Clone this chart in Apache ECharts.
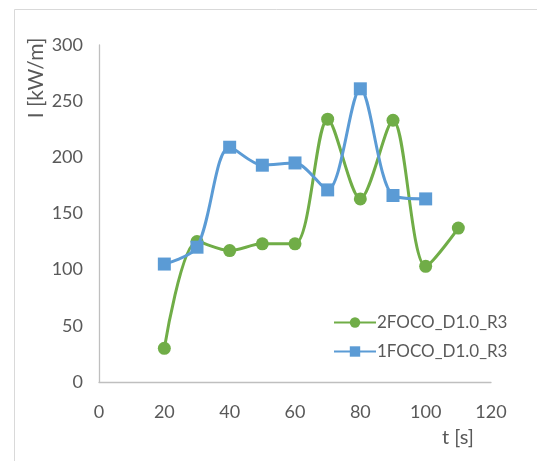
<!DOCTYPE html>
<html>
<head>
<meta charset="utf-8">
<script src="https://cdn.jsdelivr.net/npm/echarts@6/dist/echarts.min.js"></script>
<style>
  html, body { margin: 0; padding: 0; background: #fff; }
  #chart { width: 537px; height: 461px; }
</style>
</head>
<body>
<div id="chart"></div>
<script>
// Time stamps (s) and fire intensity (kW/m) for each run
const timesTwoFoco = [20, 30, 40, 50, 60, 70, 80, 90, 100, 110];
const intensityTwoFoco = [30, 125, 117, 123, 123, 234, 163, 233, 103, 137];
const timesOneFoco = [20, 30, 40, 50, 60, 70, 80, 90, 100];
const intensityOneFoco = [105, 120, 209, 193, 195, 171, 261, 166, 163];

const seriesNames = ['2FOCO_D1.0_R3', '1FOCO_D1.0_R3'];
const xTicks = { min: 0, max: 120, step: 20 };
const yTicks = { min: 0, max: 300, step: 50 };

const pairs = (xs, ys) => xs.map((x, i) => [x, ys[i]]);

const FONT = 'Lato';
const TEXT = '#595959';
const AXIS = '#BFBFBF';

const chart = echarts.init(document.getElementById('chart'));
chart.setOption({
  backgroundColor: '#fff',
  animation: false,
  grid: { left: 99, right: 46, top: 45, bottom: 79, containLabel: false },
  xAxis: {
    type: 'value',
    min: xTicks.min, max: xTicks.max, interval: xTicks.step,
    axisLine: { show: true, lineStyle: { color: AXIS, width: 1.3 } },
    axisTick: { show: false },
    splitLine: { show: false },
    axisLabel: { color: TEXT, fontFamily: FONT, fontSize: 18, margin: 21 }
  },
  yAxis: {
    type: 'value',
    min: yTicks.min, max: yTicks.max, interval: yTicks.step,
    axisLine: { show: true, lineStyle: { color: AXIS, width: 1.3 } },
    axisTick: { show: false },
    splitLine: { show: false },
    axisLabel: { color: TEXT, fontFamily: FONT, fontSize: 18, margin: 16 }
  },
  legend: {
    orient: 'vertical',
    left: 328, top: 309,
    itemWidth: 42, itemHeight: 13, itemGap: 12,
    textStyle: { color: TEXT, fontFamily: FONT, fontSize: 17, padding: [0, 0, 0, -4] },
    data: seriesNames
  },
  series: [
    {
      name: seriesNames[0], type: 'line', smooth: 0.3,
      data: pairs(timesTwoFoco, intensityTwoFoco),
      symbol: 'circle', symbolSize: 13,
      lineStyle: { color: '#70AD47', width: 3 },
      itemStyle: { color: '#70AD47' }, z: 2
    },
    {
      name: seriesNames[1], type: 'line', smooth: 0.3,
      data: pairs(timesOneFoco, intensityOneFoco),
      symbol: 'rect', symbolSize: 13,
      lineStyle: { color: '#5B9BD5', width: 3 },
      itemStyle: { color: '#5B9BD5' }, z: 3
    }
  ],
  graphic: [
    {
      type: 'rect', silent: true, z: -1,
      shape: { x: 14.5, y: 9.5, width: 560, height: 470 },
      style: { fill: 'none', stroke: '#D9D9D9', lineWidth: 1 }
    },
    {
      type: 'text', x: 36, y: 78, rotation: Math.PI / 2,
      style: {
        text: 'I [kW/m]', fill: TEXT, font: '21px ' + FONT,
        textAlign: 'center', textVerticalAlign: 'middle'
      }
    },
    {
      type: 'text', x: 458, y: 438,
      style: {
        text: 't [s]', fill: TEXT, font: '20px ' + FONT,
        textAlign: 'center', textVerticalAlign: 'middle'
      }
    }
  ]
});
</script>
</body>
</html>
